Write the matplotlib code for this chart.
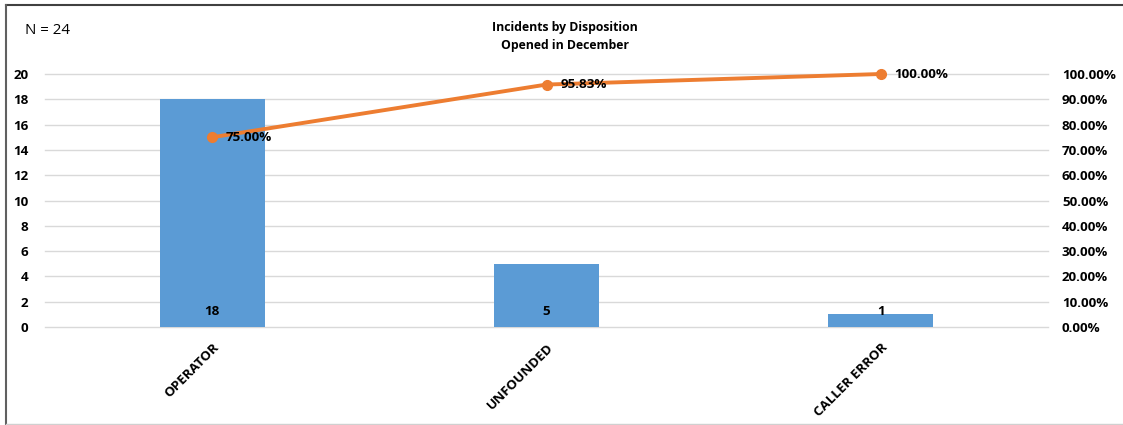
import matplotlib
matplotlib.use("Agg")
import matplotlib.pyplot as plt
from matplotlib.lines import Line2D
import numpy as np

categories = ["OPERATOR", "UNFOUNDED", "CALLER ERROR"]
counts = [18, 5, 1]
cum_pct = [75.00, 95.83, 100.00]
left_ticks = [0, 2, 4, 6, 8, 10, 12, 14, 16, 18, 20]
right_ticks = [0, 10, 20, 30, 40, 50, 60, 70, 80, 90, 100]

plt.rcParams['font.family'] = ['Open Sans', 'DejaVu Sans']
FS = 9.6

W, H = 1123, 425
fig = plt.figure(figsize=(W / 100, H / 100), dpi=100)
ax = fig.add_axes([45 / W, 1 - 327 / H, (1048 - 45) / W, (327 - 74) / H])

x = np.arange(len(categories))
ax.bar(x, counts, width=0.314, color="#5B9BD5", zorder=2)
ax.set_xlim(-0.5, len(categories) - 0.5)
ax.set_ylim(0, 20)
ax.set_yticks(left_ticks)
ax.set_yticklabels([str(t) for t in left_ticks], fontsize=FS, fontweight='bold')
ax.tick_params(axis='y', length=0, pad=12)
ax.grid(axis='y', color="#D9D9D9", linewidth=1, zorder=0)
ax.set_axisbelow(True)
for gl in ax.get_ygridlines():
    gl.set_clip_on(False)
for s in ax.spines.values():
    s.set_visible(False)
ax.set_xticks(x)
ax.set_xticklabels(categories, rotation=45, ha='right', rotation_mode='anchor',
                   fontsize=FS, fontweight='bold')
ax.tick_params(axis='x', length=0, pad=10)

for xi, c in zip(x, counts):
    ax.annotate(str(c), (xi, 0), xytext=(0, 11), textcoords='offset points',
                ha='center', va='center', fontsize=FS, fontweight='bold', zorder=5)

ax2 = ax.twinx()
ax2.set_ylim(0, 100)
ax2.set_yticks(right_ticks)
ax2.set_yticklabels([f"{t:.2f}%" for t in right_ticks], fontsize=FS, fontweight='bold')
ax2.tick_params(axis='y', length=0, pad=10)
for s in ax2.spines.values():
    s.set_visible(False)
ax2.plot(x, cum_pct, color="#ED7D31", linewidth=2.8, marker='o', markersize=7, zorder=4,
         clip_on=False)
for xi, p in zip(x, cum_pct):
    ax2.annotate(f"{p:.2f}%", (xi, p), xytext=(10, 0), textcoords='offset points',
                 ha='left', va='center', fontsize=FS, fontweight='bold', zorder=5)

fig.text(565 / W, 1 - 27 / H, "Incidents by Disposition", ha='center', va='center',
         fontsize=8.8, fontweight='bold')
fig.text(565 / W, 1 - 45 / H, "Opened in December", ha='center', va='center',
         fontsize=8.8, fontweight='bold')
fig.text(25 / W, 1 - 30 / H, "N = 24", ha='left', va='center', fontsize=10.8)

# border
fig.add_artist(Line2D([5.5 / W, 1], [1 - 4.5 / H, 1 - 4.5 / H], color="#404040", linewidth=1.5,
                      transform=fig.transFigure))
fig.add_artist(Line2D([5.5 / W, 5.5 / W], [1 - 4.5 / H, 1 - 423.5 / H], color="#606060", linewidth=1.5,
                      transform=fig.transFigure))
fig.add_artist(Line2D([5.5 / W, 1], [1 - 423.5 / H, 1 - 423.5 / H], color="#D0D0D0", linewidth=1,
                      transform=fig.transFigure))

fig.savefig("out.png", dpi=100)
